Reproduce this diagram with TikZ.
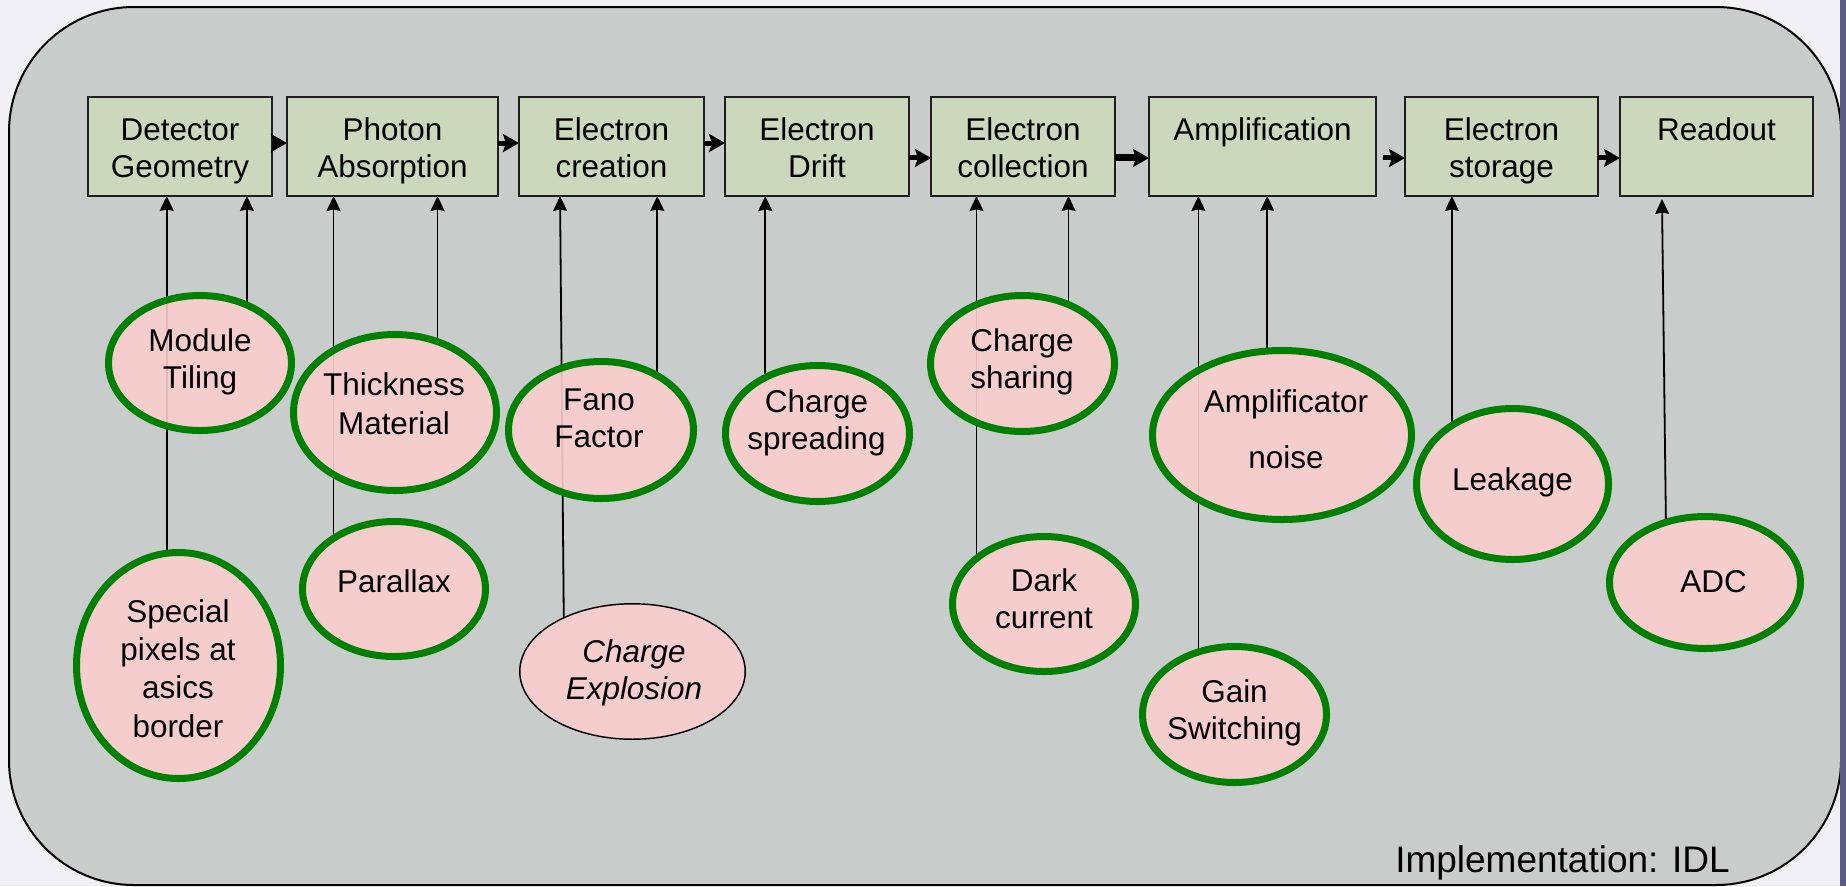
\documentclass[tikz,border=0pt]{standalone}
\usepackage{fontspec}
\setmainfont{Liberation Sans}
\usetikzlibrary{arrows.meta,shapes.geometric}
\newlength\pxu
\setlength\pxu{0.75pt}
\definecolor{pagebg}{RGB}{240,240,245}
\definecolor{panelbg}{RGB}{200,204,202}
\definecolor{boxfill}{RGB}{203,216,187}
\definecolor{ovalfill}{RGB}{251,206,206}
\definecolor{ovalline}{RGB}{0,128,0}
\definecolor{edgebar}{RGB}{90,90,135}
\definecolor{boxline}{RGB}{30,30,30}
\newcommand\dtxt{\fontsize{23.6pt}{27.75pt}\selectfont}
\newcommand\ftxt{\fontsize{27.75pt}{33pt}\selectfont}
\pgfdeclarelayer{panel}
\pgfdeclarelayer{links}
\pgfsetlayers{panel,links,main}
\begin{document}
\begin{tikzpicture}[x=0.75pt,y=-0.75pt,
  stagebox/.style={draw=boxline, line width=1.5pt, fill=boxfill, minimum height=74.25pt, inner sep=0pt, outer sep=0pt},
  stagetext/.style={font=\dtxt, align=center, inner sep=0pt, anchor=north},
  oval/.style={ellipse, draw=ovalline, line width=5.25pt, fill=ovalfill, fill opacity=0.9, inner sep=0pt, outer sep=0pt},
  thinoval/.style={oval, draw=black, line width=1.1pt},
  ovaltext/.style={font=\dtxt, align=center, inner sep=0pt, anchor=north},
  link/.style={line width=1.35pt, -{Stealth[length=11.25pt, width=10.5pt, inset=1.2pt]}},
  flow/.style={line width=3.75pt, -{Stealth[length=12pt, width=13.5pt, inset=2.25pt]}},
]
\useasboundingbox (0,0) rectangle (1846,886);
\begin{pgfonlayer}{panel}
\fill[pagebg] (0,0) rectangle (1846,886);
\draw[line width=1.5pt, fill=panelbg, rounded corners=93.75pt] (9,7) rectangle (1841,885);
\end{pgfonlayer}

% stage boxes
\node[stagebox, minimum width=138pt]    (dg)  at (180,146.5) {};
\node[stagebox, minimum width=158.25pt] (pa)  at (392.5,146.5) {};
\node[stagebox, minimum width=138.75pt] (ec)  at (611.5,146.5) {};
\node[stagebox, minimum width=138pt]    (ed)  at (817,146.5) {};
\node[stagebox, minimum width=138pt]    (ecl) at (1023,146.5) {};
\node[stagebox, minimum width=170.25pt] (amp) at (1262.5,146.5) {};
\node[stagebox, minimum width=144.75pt] (es)  at (1501.5,146.5) {};
\node[stagebox, minimum width=144.75pt] (ro)  at (1716.5,146.5) {};

\node[stagetext] (dgt)  at (180,114.1)    {\strut Detector\\Geometry};
\node[stagetext] (pat)  at (392.5,114.1)  {\strut Photon\\Absorption};
\node[stagetext] (ect)  at (611.5,114.1)  {\strut Electron\\creation};
\node[stagetext] (edt)  at (817,114.1)    {\strut Electron\\Drift};
\node[stagetext] (eclt) at (1023,114.1)   {\strut Electron\\collection};
\node[stagetext] (ampt) at (1262.5,114.1) {\strut Amplification};
\node[stagetext] (est)  at (1501.5,114.1) {\strut Electron\\storage};
\node[stagetext] (rot)  at (1716.5,114.1) {\strut Readout};

% ovals (sizes in pt = px * 0.75)
\node[oval, minimum width=137.25pt, minimum height=101.25pt] (mt)  at (200,363) {};
\node[oval, minimum width=153pt,    minimum height=169.5pt]  (sp)  at (178.5,665.5) {};
\node[oval, minimum width=152.25pt, minimum height=117pt]    (tm)  at (395,412.5) {};
\node[oval, minimum width=137.25pt, minimum height=101.25pt] (px)  at (394,589) {};
\node[oval, minimum width=138.75pt, minimum height=102.75pt] (ff)  at (601,430) {};
\node[thinoval, minimum width=169.1pt, minimum height=101.6pt] (ce) at (632.5,671.5) {};
\node[oval, minimum width=138pt,    minimum height=102pt]    (cs)  at (817.5,433.5) {};
\node[oval, minimum width=138pt,    minimum height=102pt]    (csh) at (1022.5,363.5) {};
\node[oval, minimum width=137.25pt, minimum height=101.25pt] (dc)  at (1044,604) {};
\node[oval, minimum width=194.25pt, minimum height=126.75pt] (an)  at (1282,435) {};
\node[oval, minimum width=138pt,    minimum height=102pt]    (gs)  at (1234.5,714.5) {};
\node[oval, minimum width=144pt,    minimum height=113.25pt] (lk)  at (1512.5,484) {};
\node[oval, minimum width=143.25pt, minimum height=99pt]     (adc) at (1705,582.5) {};

\node[ovaltext] (mtt)  at (200,325.1)    {\strut Module\\Tiling};
\node[ovaltext] (spt)  at (178,596.1)    {\strut Special\\[1pt]pixels at\\[1pt]asics\\[1pt]border};
\node[ovaltext] (tmt)  at (394,369.1)    {\strut Thickness\\[1.5pt]Material};
\node[ovaltext] (pxt)  at (394,566.1)    {\strut Parallax};
\node[ovaltext] (fft)  at (599,384.1)    {\strut Fano\\Factor};
\node[ovaltext, font=\dtxt\itshape] (cet) at (634,636.1) {\strut Charge\\Explosion};
\node[ovaltext] (cst)  at (816.5,386.1)  {\strut Charge\\spreading};
\node[ovaltext] (csht) at (1022,325.1)   {\strut Charge\\sharing};
\node[ovaltext] (dct)  at (1044,565.1)   {\strut Dark\\current};
\node[ovaltext] (ant)  at (1286,386.1)   {\strut Amplificator\\[14.25pt]noise};
\node[ovaltext] (gst)  at (1234.5,676.1) {\strut Gain\\Switching};
\node[ovaltext] (lkt)  at (1512.5,464.1) {\strut Leakage};
\node[ovaltext] (adct) at (1713.5,566.1) {\strut ADC};

% influence links
\begin{pgfonlayer}{links}
\draw[link] (sp.96)   -- (sp.96 |- dg.south);
\draw[link] (mt.51)   -- (mt.51 |- dg.south);
\draw[link] (px.140)  -- (px.140 |- pa.south);
\draw[link] (tm.59)   -- (tm.59 |- pa.south);
\draw[link] (ce.142)  -- ([xshift=-38.6pt]ec.south);
\draw[link] (ff.44)   -- (ff.44 |- ec.south);
\draw[link] (cs.133)  -- (cs.133 |- ed.south);
\draw[link] (dc.146)  -- (dc.146 |- ecl.south);
\draw[link] (csh.52)  -- (csh.52 |- ecl.south);
\draw[link] (gs.120)  -- (gs.120 |- amp.south);
\draw[link] (an.100)  -- (an.100 |- amp.south);
\draw[link] (lk.136)  -- (lk.136 |- es.south);
\draw[link] (adc.123) -- ([xshift=-40.9pt,yshift=-2.25pt]ro.south);
\end{pgfonlayer}

% flow arrows
\draw[flow] ([yshift=2.6pt]dg.east)  -- ([yshift=2.6pt]pa.west);
\draw[flow] ([yshift=2.6pt]pa.east)  -- ([yshift=2.6pt]ec.west);
\draw[flow] ([yshift=2.6pt]ec.east)  -- ([yshift=2.6pt]ed.west);
\draw[flow] ([yshift=-8.6pt]ed.east) -- ([yshift=-8.6pt]ecl.west);
\draw[flow, line width=5.25pt] ([yshift=-8.6pt]ecl.east) -- ([yshift=-8.6pt]amp.west);
\draw[flow] ([xshift=5.25pt,yshift=-8.6pt]amp.east) -- ([yshift=-8.6pt]es.west);
\draw[flow] ([yshift=-8.6pt]es.east) -- ([yshift=-8.6pt]ro.west);

\node[font=\ftxt, anchor=base west, inner sep=0pt] (impl) at (1395,872) {Implementation: IDL};

\fill[edgebar] (1840,0) rectangle (1846,886);
\end{tikzpicture}
\end{document}
